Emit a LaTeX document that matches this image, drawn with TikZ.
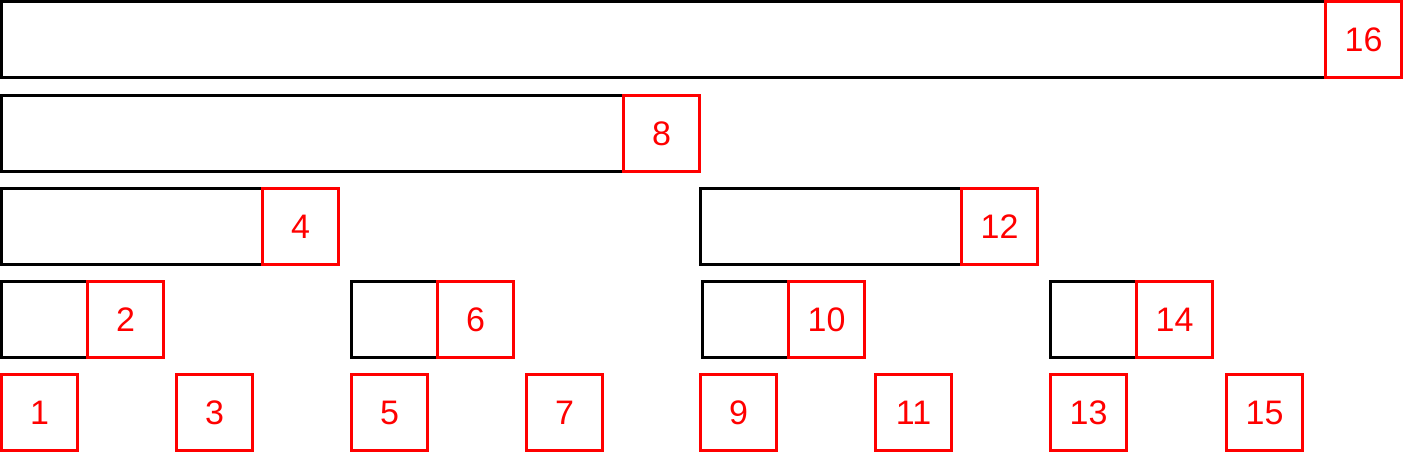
\documentclass[tikz,border=0pt]{standalone}
\usepackage{fontspec}
\setmainfont{Liberation Sans}
\begin{document}
\begin{tikzpicture}[x=1pt,y=1pt,
  blk/.style={draw=black,line width=3pt,inner sep=0pt,outer sep=0pt,minimum height=76pt,anchor=north west},
  rbox/.style={draw=red,text=red,line width=3pt,inner sep=0pt,outer sep=0pt,minimum width=76pt,minimum height=76pt,anchor=north west,font=\fontsize{34}{34}\selectfont}]
\useasboundingbox (0,0) rectangle (1405,-458);
% row 1
\node[blk,minimum width=1324pt] (b16) at (1.5,-1.5) {};
\node[rbox] (n16) at (1325.5,-1.5) {16};
% row 2
\node[blk,minimum width=622pt] (b8) at (1.5,-95.5) {};
\node[rbox] (n8) at (623.5,-95.5) {8};
% row 3
\node[blk,minimum width=261pt] (b4) at (1.5,-188.5) {};
\node[rbox] (n4) at (262.5,-188.5) {4};
\node[blk,minimum width=261pt] (b12) at (700.5,-188.5) {};
\node[rbox] (n12) at (961.5,-188.5) {12};
% row 4
\node[blk,minimum width=86pt] (b2) at (1.5,-281.5) {};
\node[rbox] (n2) at (87.5,-281.5) {2};
\node[blk,minimum width=86pt] (b6) at (351.5,-281.5) {};
\node[rbox] (n6) at (437.5,-281.5) {6};
\node[blk,minimum width=86pt] (b10) at (702.5,-281.5) {};
\node[rbox] (n10) at (788.5,-281.5) {10};
\node[blk,minimum width=86pt] (b14) at (1050.5,-281.5) {};
\node[rbox] (n14) at (1136.5,-281.5) {14};
% row 5
\node[rbox] (n1) at (1.5,-374.5) {1};
\node[rbox] (n3) at (176.5,-374.5) {3};
\node[rbox] (n5) at (351.5,-374.5) {5};
\node[rbox] (n7) at (526.5,-374.5) {7};
\node[rbox] (n9) at (700.5,-374.5) {9};
\node[rbox] (n11) at (875.5,-374.5) {11};
\node[rbox] (n13) at (1050.5,-374.5) {13};
\node[rbox] (n15) at (1226.5,-374.5) {15};
\end{tikzpicture}
\end{document}
